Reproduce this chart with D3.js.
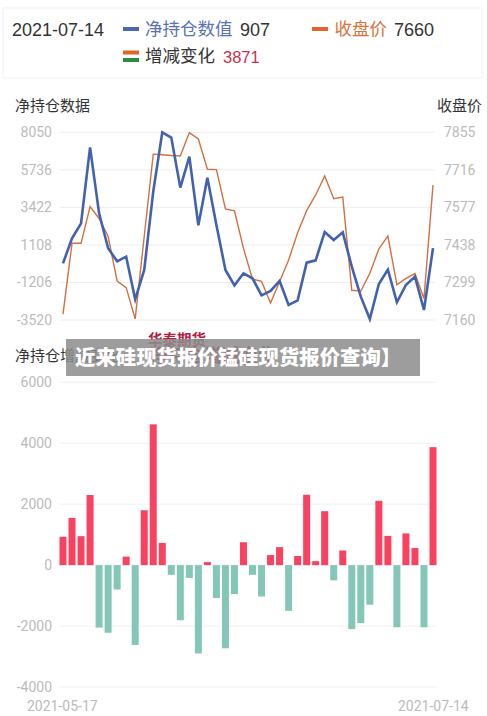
<!DOCTYPE html>
<html>
<head>
<meta charset="utf-8">
<script src="https://cdn.jsdelivr.net/npm/d3@7"></script>
<style>
html, body { margin: 0; padding: 0; background: #fff; }
text { font-family: "DejaVu Sans", sans-serif; }
.cjk { font-family: "Noto Sans CJK SC", sans-serif; }
.num { font-family: Roboto, sans-serif; }
.lat { font-family: "Liberation Sans", sans-serif; }
</style>
</head>
<body>
<script>
// values
var lastDate = "2021-07-14", firstDate = "2021-05-17";
var netHolding = [-26,1515,2440,7125,3056,899,97,385,-2246,-437,4392,8050,7721,4639,6550,2317,5255,2337,-437,-1382,-643,-951,-1999,-1732,-1115,-2595,-2307,15,159,1906,1412,1885,-232,-2081,-3458,-1300,-417,-2431,-1362,-848,-2903,907];
var closePrice = [7182,7444,7444,7580,7536,7469,7304,7280,7164,7469,7774,7772,7769,7767,7854,7830,7718,7717,7571,7564,7425,7311,7303,7223,7302,7382,7483,7565,7623,7693,7609,7615,7270,7267,7333,7423,7471,7290,7314,7332,7240,7660];
var change = [930,1550,950,2300,-2050,-2220,-800,280,-2620,1800,4620,730,-320,-1810,-420,-2900,100,-1080,-2730,-950,750,-320,-1030,330,590,-1500,300,2310,130,1770,-500,480,-2100,-1900,-1300,2110,960,-2040,1040,560,-2040,3871];
var leftTicks = [8050,5736,3422,1108,-1206,-3520];
var rightTicks = [7855,7716,7577,7438,7299,7160];
var barTicks = [6000,4000,2000,0,-2000,-4000];

var svg = d3.select("body").append("svg").attr("width", 487).attr("height", 716).style("display", "block");

function label(x, y, str, size, fill, cls, anchor) {
    return svg.append("text").attr("x", x).attr("y", y).attr("class", cls)
        .attr("font-size", size).attr("fill", fill).attr("text-anchor", anchor || "start").text(str);
}

// legend box
svg.append("rect").attr("x", 3).attr("y", 8).attr("width", 479).attr("height", 70)
    .attr("fill", "#fff").attr("stroke", "#f2f2f2");
label(12, 35.5, lastDate, 18, "#333", "lat");
svg.append("rect").attr("x", 123).attr("y", 27).attr("width", 16).attr("height", 4).attr("fill", "#4a67b0");
label(145, 35, "净持仓数值", 17.5, "#5a72b5", "cjk");
label(240, 35.5, "907", 18, "#333", "lat");
svg.append("rect").attr("x", 312).attr("y", 27).attr("width", 16).attr("height", 4).attr("fill", "#e0652a");
label(334.5, 35, "收盘价", 17.5, "#d9743c", "cjk");
label(394, 35.5, "7660", 18, "#333", "lat");
svg.append("rect").attr("x", 123).attr("y", 50.5).attr("width", 16).attr("height", 4).attr("fill", "#e0652a");
svg.append("rect").attr("x", 123).attr("y", 58).attr("width", 16).attr("height", 4).attr("fill", "#2e8b3d");
label(145, 62, "增减变化", 17.5, "#333", "cjk");
label(223, 62.5, "3871", 16.5, "#c8324a", "lat");

// top chart
label(15, 111, "净持仓数据", 15, "#333", "cjk");
label(482, 111, "收盘价", 15, "#333", "cjk", "end");

var x = d3.scalePoint().domain(d3.range(netHolding.length)).range([63, 433]);
var yLeft = d3.scaleLinear().domain([-3520, 8050]).range([320, 132.3]);
var yRight = d3.scaleLinear().domain([7160, 7855]).range([320, 132.3]);

svg.append("g").selectAll("line").data(leftTicks).join("line")
    .attr("x1", 60).attr("x2", 435)
    .attr("y1", function(d) { return yLeft(d); }).attr("y2", function(d) { return yLeft(d); })
    .attr("stroke", "#eeeeee");
svg.append("g").selectAll("text").data(leftTicks).join("text")
    .attr("class", "num").attr("x", 52).attr("y", function(d) { return yLeft(d) + 5; })
    .attr("text-anchor", "end").attr("font-size", 14).attr("fill", "#bbbbbb").text(function(d) { return d; });
svg.append("g").selectAll("text").data(rightTicks).join("text")
    .attr("class", "num").attr("x", 444).attr("y", function(d) { return yRight(d) + 5; })
    .attr("font-size", 14).attr("fill", "#bbbbbb").text(function(d) { return d; });

var closeLine = d3.line().x(function(d, i) { return x(i); }).y(function(d) { return yRight(d); });
var netLine = d3.line().x(function(d, i) { return x(i); }).y(function(d) { return yLeft(d); });
svg.append("path").datum(closePrice).attr("fill", "none").attr("stroke", "#d2703f").attr("stroke-width", 1.4).attr("d", closeLine);
svg.append("path").datum(netHolding).attr("fill", "none").attr("stroke", "#4262ad").attr("stroke-width", 2.6).attr("d", netLine);

// bottom chart
var yBar = d3.scaleLinear().domain([-4000, 6000]).range([687, 382.3]);
label(15, 361, "净持仓增减变化", 15, "#333", "cjk");

svg.append("g").selectAll("line").data(barTicks).join("line")
    .attr("x1", 59).attr("x2", 437)
    .attr("y1", function(d) { return yBar(d); }).attr("y2", function(d) { return yBar(d); })
    .attr("stroke", "#f3eff3");
svg.append("g").selectAll("text").data(barTicks).join("text")
    .attr("class", "num").attr("x", 52).attr("y", function(d) { return yBar(d) + 5; })
    .attr("text-anchor", "end").attr("font-size", 14).attr("fill", "#bbbbbb").text(function(d) { return d; });
svg.append("g").selectAll("rect").data(change).join("rect")
    .attr("x", function(d, i) { return x(i) - 3.5; }).attr("width", 7)
    .attr("y", function(d) { return yBar(Math.max(d, 0)); })
    .attr("height", function(d) { return Math.abs(yBar(d) - yBar(0)); })
    .attr("fill", function(d) { return d > 0 ? "#f9425f" : "#84c7b8"; });
label(27, 711, firstDate, 14, "#bbbbbb", "num");
label(398, 711, lastDate, 14, "#bbbbbb", "num");

// banner over the chart
label(148, 345, "华泰期货", 14.5, "#b5213e", "cjk").attr("font-weight", 700);
label(150, 362, "净持仓增减变化", 18, "#a3132f", "cjk").attr("font-weight", 700);
svg.append("rect").attr("x", 66).attr("y", 339).attr("width", 354).attr("height", 37).attr("fill", "#8c8c8c").attr("fill-opacity", 0.85);
label(75, 364.5, "近来硅现货报价锰硅现货报价查询】", 20.4, "#fff", "cjk").attr("font-weight", 900);
</script>
</body>
</html>
